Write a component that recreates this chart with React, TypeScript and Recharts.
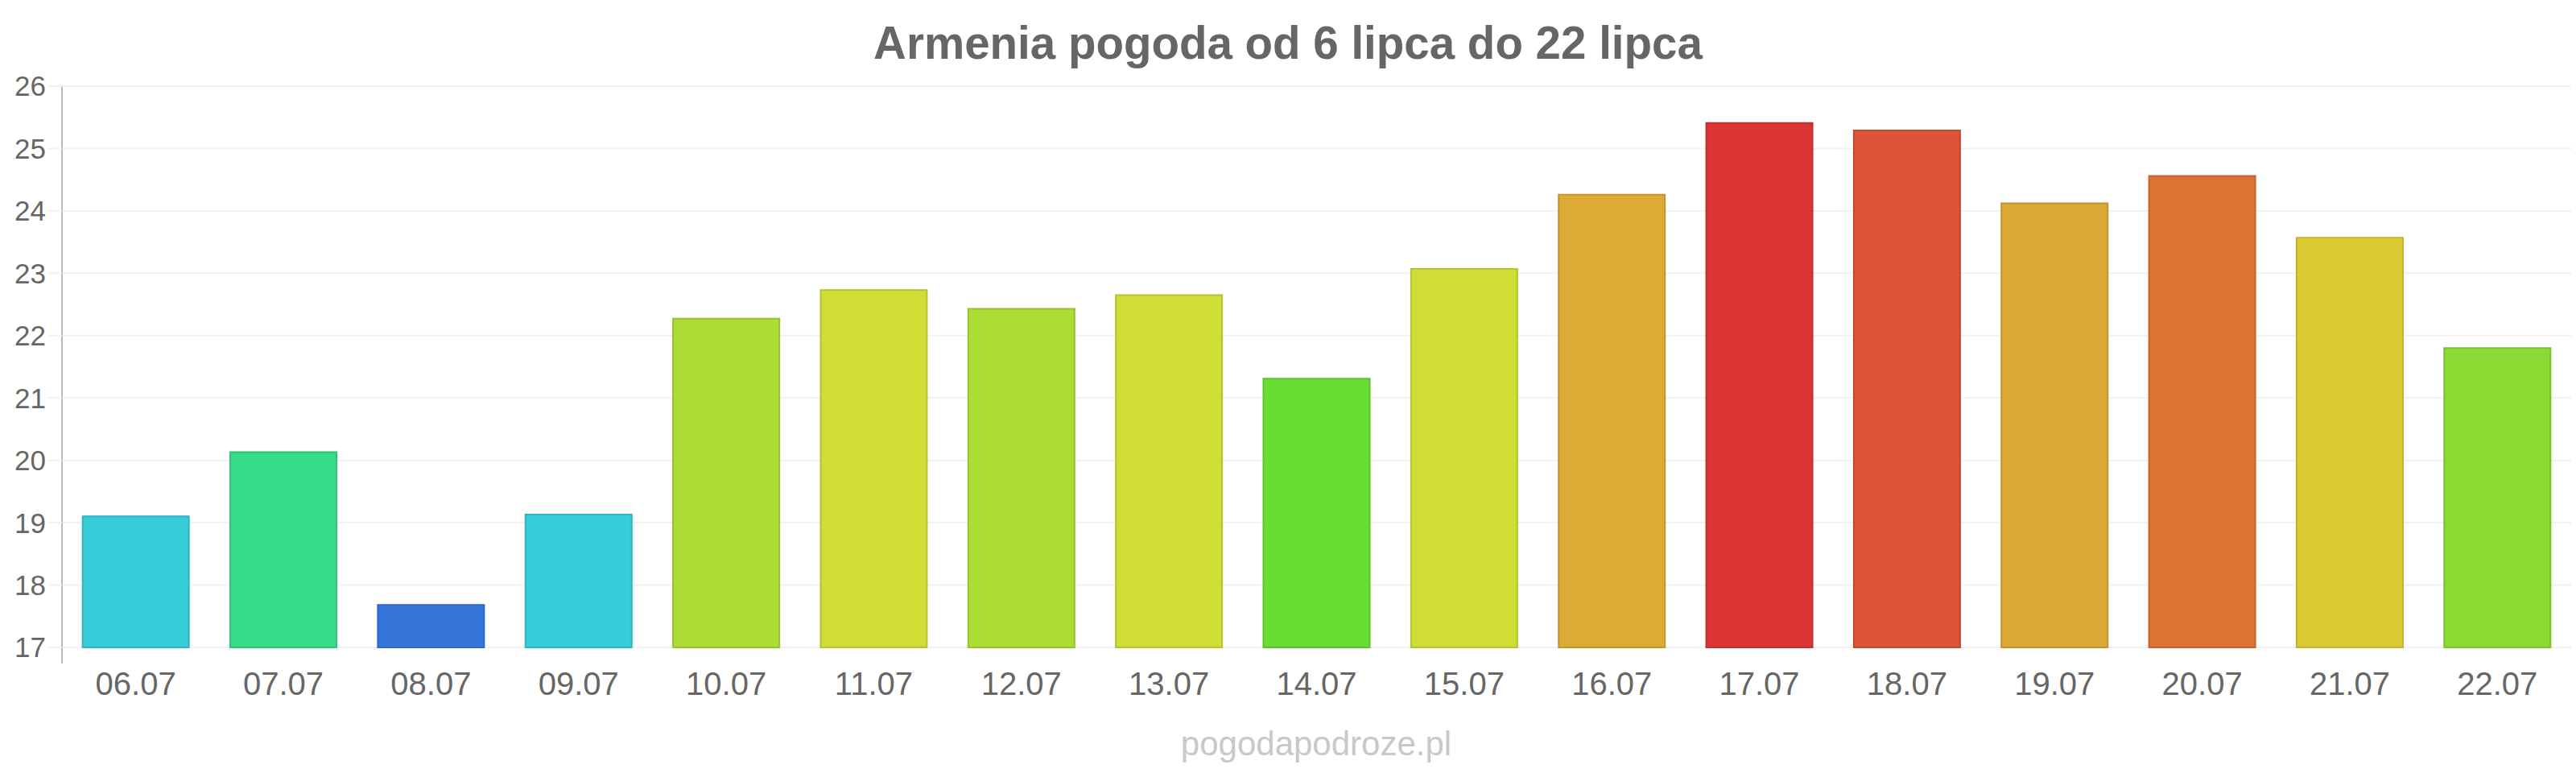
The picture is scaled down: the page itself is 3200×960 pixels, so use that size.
import { BarChart, Bar, XAxis, YAxis, CartesianGrid, Cell } from 'recharts';

const days = [
  '06.07', '07.07', '08.07', '09.07', '10.07', '11.07', '12.07', '13.07', '14.07',
  '15.07', '16.07', '17.07', '18.07', '19.07', '20.07', '21.07', '22.07',
];

const temps = [
  19.1, 20.13, 17.68, 19.13, 22.27, 22.73, 22.43, 22.65, 21.31,
  23.07, 24.26, 25.41, 25.29, 24.12, 24.56, 23.57, 21.8,
];

const yTicks = [17, 18, 19, 20, 21, 22, 23, 24, 25, 26];

const barColors = [
  '#36cdd9', '#37dc89', '#3676db', '#36cdd9', '#acdd34', '#d0dd35', '#acdd34', '#d0dd35', '#6add35',
  '#d0dd35', '#dcaa35', '#dc3535', '#de5236', '#dca835', '#de7235', '#dcca35', '#8bdb35',
];

const font = '"Liberation Sans", Arial, sans-serif';

// slightly darker outline for each bar
function darken(hex: string, k = 0.88) {
  const n = parseInt(hex.slice(1), 16);
  const r = Math.round(((n >> 16) & 255) * k);
  const g = Math.round(((n >> 8) & 255) * k);
  const b = Math.round((n & 255) * k);
  return `rgb(${r},${g},${b})`;
}

export default function App() {
  const data = days.map((d, i) => ({ day: d, temp: temps[i] }));

  return (
    <div style={{ position: 'absolute', left: 0, top: 0, width: 3200, height: 960, background: '#fff', fontFamily: font }}>
      <BarChart
        width={3200}
        height={960}
        data={data}
        margin={{ top: 107, right: 6, left: 0, bottom: 76 }}
        barCategoryGap="14%"
      >
        <CartesianGrid vertical={false} horizontalValues={yTicks} stroke="#f2f2f2" strokeWidth={2} />
        <XAxis
          dataKey="day"
          axisLine={false}
          tickLine={false}
          tickSize={0}
          tickMargin={11}
          height={60}
          interval={0}
          tick={{ fontSize: 40, fill: '#666666', fontFamily: font }}
        />
        <YAxis
          domain={[17, 26]}
          ticks={yTicks}
          interval={0}
          width={77}
          padding={{ top: 0, bottom: 20 }}
          axisLine={{ stroke: '#bbbbbb', strokeWidth: 2 }}
          tickLine={{ stroke: '#f2f2f2', strokeWidth: 2 }}
          tickSize={18}
          tickMargin={2}
          tick={{ fontSize: 35, fill: '#666666', fontFamily: font }}
        />
        <Bar dataKey="temp" isAnimationActive={false} strokeWidth={2}>
          {data.map((d, i) => (
            <Cell key={d.day} fill={barColors[i]} stroke={darken(barColors[i])} />
          ))}
        </Bar>
      </BarChart>
      <svg
        width={3200}
        height={960}
        style={{ position: 'absolute', left: 0, top: 0, pointerEvents: 'none' }}
      >
        <text x={1600} y={73} textAnchor="middle" fontSize={56.5} fontWeight="bold" fill="#666666" fontFamily={font}>
          Armenia pogoda od 6 lipca do 22 lipca
        </text>
        <text x={1635} y={938} textAnchor="middle" fontSize={42} fill="#c8c8c8" fontFamily={font}>
          pogodapodroze.pl
        </text>
      </svg>
    </div>
  );
}
